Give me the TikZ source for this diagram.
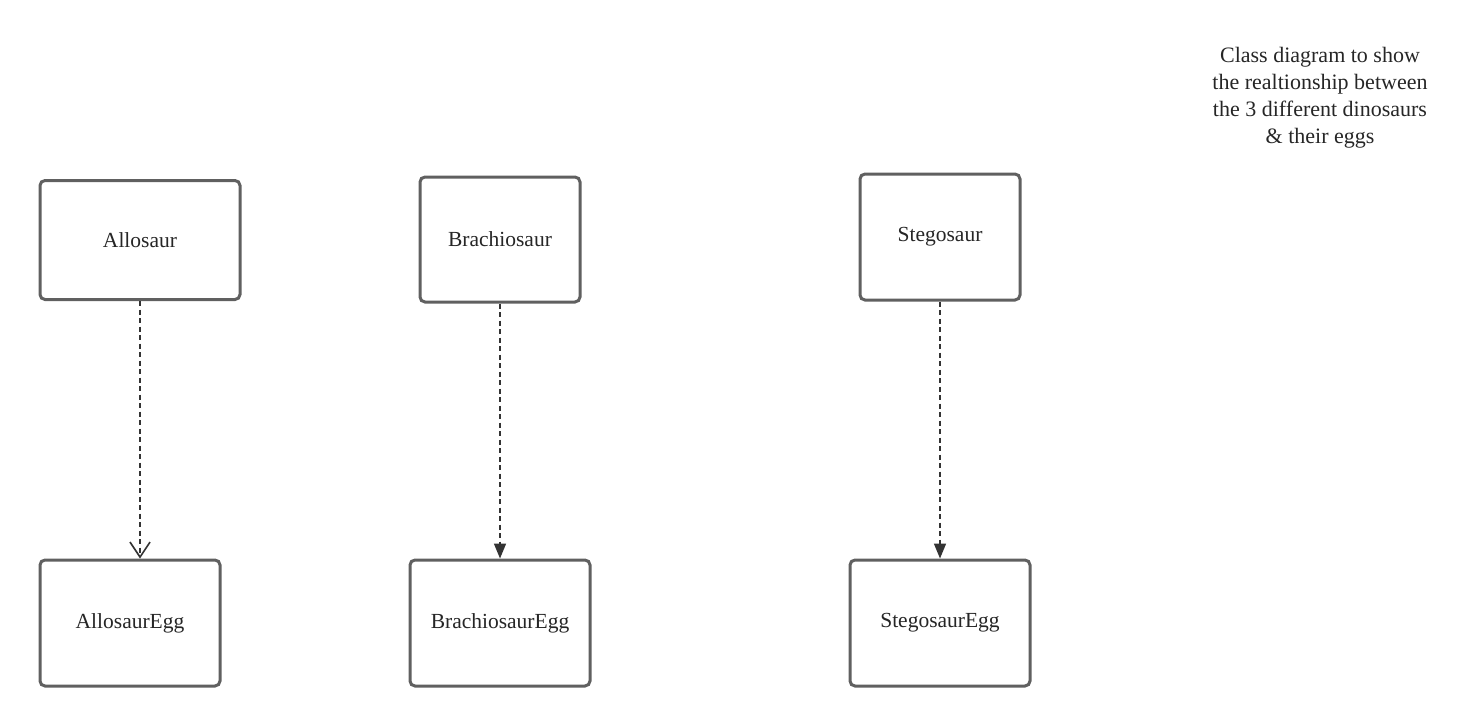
\documentclass[tikz,border=0pt]{standalone}
\usepackage{fontspec}
\setmainfont{Liberation Serif}
\usetikzlibrary{arrows.meta}
\definecolor{boxgray}{HTML}{606060}
\definecolor{linegray}{HTML}{333333}
\begin{document}
\begin{tikzpicture}[x=1pt, y=-1pt,
	dino/.style={draw=boxgray, line width=3pt, rounded corners=5pt, fill=white,
		font=\fontsize{21.5}{26}\selectfont, text=black!85},
	dep/.style={linegray, line width=1.6pt, dash pattern=on 5pt off 3.5pt}]
	\useasboundingbox (0,0) rectangle (1480,726);
	% 说明文字
	\node [align=center, font=\fontsize{22}{27}\selectfont, text=black!85] (note) at (1320,98)
		{Class diagram to show\\the realtionship between\\the 3 different dinosaurs\\\& their eggs};
	% 恐龙类
	\node [dino, minimum width=200pt, minimum height=119pt] (allo) at (140,240) {Allosaur};
	\node [dino, minimum width=160pt, minimum height=125pt] (brachio) at (500,239.5) {Brachiosaur};
	\node [dino, minimum width=160pt, minimum height=126pt] (stego) at (940,237) {Stegosaur};
	% 蛋类
	\node [dino, minimum width=180pt, minimum height=126pt] (alloegg) at (130,623) {AllosaurEgg};
	\node [dino, minimum width=180pt, minimum height=126pt] (brachioegg) at (500,623) {BrachiosaurEgg};
	\node [dino, minimum width=180pt, minimum height=126pt] (stegoegg) at (940,623) {StegosaurEgg};
	% 依赖关系
	\draw [dep, -{Straight Barb[length=15pt, width=20pt, line width=1.6pt]}] (allo.south) -- (allo.south |- alloegg.north);
	\draw [dep, -{Triangle[length=15pt, width=12pt]}] (brachio.south) -- (brachioegg.north);
	\draw [dep, -{Triangle[length=15pt, width=12pt]}] (stego.south) -- (stegoegg.north);
\end{tikzpicture}
\end{document}
